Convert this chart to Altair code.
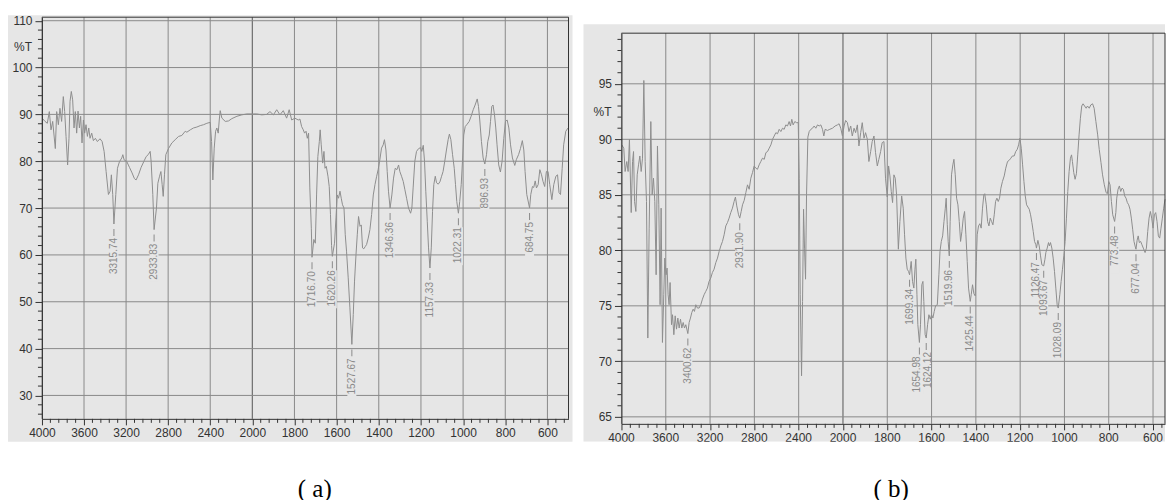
import altair as alt
import pandas as pd

# ---------------- spectrum (a) : wavenumber (cm-1) and %T ----------------
wn_a = [3994, 3971, 3949, 3930, 3914, 3898, 3873, 3860, 3844, 3829, 3813, 3797, 3784, 3771, 3756,
        3743, 3733, 3721, 3708, 3695, 3683, 3670, 3657, 3644, 3632, 3619, 3606, 3594, 3581, 3568,
        3555, 3543, 3527, 3511, 3492, 3473, 3448, 3428, 3409, 3390, 3368, 3352, 3340, 3327, 3315.74,
        3298, 3282, 3263, 3241, 3231, 3219, 3193, 3168, 3143, 3121, 3105, 3082, 3057, 3028, 3009,
        2990, 2971, 2962, 2946, 2933.83, 2911, 2898, 2882, 2869, 2857, 2847, 2835, 2822, 2797, 2765,
        2733, 2701, 2670, 2638, 2622, 2590, 2559, 2527, 2495, 2463, 2432, 2400, 2387, 2375, 2362,
        2349, 2337, 2324, 2314, 2305, 2289, 2257, 2226, 2194, 2146, 2099, 2051, 1994, 1979, 1955,
        1932, 1916, 1900, 1884, 1869, 1853, 1837, 1825, 1813, 1798, 1782, 1774, 1766, 1758, 1752,
        1745, 1739, 1733, 1727, 1720, 1716.70, 1708, 1701, 1695, 1689, 1682, 1678, 1673, 1666, 1660,
        1655, 1649, 1641, 1635, 1629, 1624, 1620.26, 1610, 1603, 1597, 1591, 1584, 1578, 1572, 1565,
        1559, 1553, 1545, 1537, 1527.67, 1521, 1515, 1508, 1502, 1496, 1489, 1483, 1477, 1471, 1464,
        1458, 1450, 1442, 1434, 1426, 1418, 1410, 1403, 1395, 1387, 1379, 1373, 1366, 1360, 1354,
        1346.36, 1338, 1330, 1322, 1314, 1306, 1300, 1292, 1284, 1276, 1268, 1259, 1249, 1243, 1237,
        1229, 1221, 1211, 1202, 1196, 1189, 1183, 1177, 1170, 1164, 1157.33, 1151, 1145, 1139, 1132,
        1126, 1118, 1110, 1102, 1095, 1087, 1079, 1071, 1065, 1058, 1050, 1042, 1036, 1030, 1022.31,
        1016, 1009, 1003, 997, 990, 981, 971, 962, 952, 943, 933, 927, 921, 913, 905,
        896.93, 889, 883, 876, 870, 864, 858, 851, 845, 839, 831, 823, 815, 807, 799,
        791, 783, 775, 766, 755, 747, 737, 728, 719, 712, 706, 698, 684.75, 679, 671,
        665, 658, 652, 644, 636, 628, 621, 613, 605, 597, 589, 579, 570, 560, 552,
        545, 538, 530, 523, 513, 502]
t_a = [89.1, 88.5, 88.1, 90.6, 86.7, 88.5, 82.7, 90.6, 87.8, 91.3, 88.5, 93.8, 90.6, 85.3, 79.2,
       84.9, 92.8, 94.9, 93.1, 87.1, 90.6, 86.0, 90.7, 87.1, 89.6, 83.9, 88.8, 86.0, 87.8, 85.3,
       87.1, 84.9, 86.0, 84.4, 84.9, 84.2, 84.8, 84.2, 82.1, 77.8, 72.9, 73.6, 77.1, 72.9, 66.6,
       72.9, 78.5, 79.9, 80.7, 81.4, 80.3, 79.9, 78.7, 77.5, 76.3, 76.0, 77.1, 78.7, 80.1, 81.0,
       81.4, 82.1, 80.0, 72.9, 65.4, 70.0, 75.3, 76.8, 77.8, 75.0, 72.5, 77.1, 81.4, 82.7, 83.9,
       84.6, 85.3, 85.5, 86.4, 86.2, 86.7, 87.1, 87.3, 87.6, 87.8, 88.1, 88.3, 84.2, 76.0, 82.8,
       86.4, 87.1, 86.0, 88.8, 90.8, 89.2, 88.5, 88.6, 89.1, 89.6, 89.9, 90.1, 90.1, 90.1, 89.9,
       90.0, 90.6, 89.9, 91.0, 89.9, 90.8, 89.2, 91.0, 88.8, 89.2, 88.8, 89.0, 87.4, 86.7, 86.0,
       86.4, 84.9, 86.0, 74.3, 65.7, 59.5, 63.3, 62.5, 72.8, 81.0, 84.2, 86.7, 83.5, 79.6, 82.1,
       78.5, 78.9, 76.8, 74.6, 68.6, 62.0, 59.7, 62.5, 67.9, 72.8, 72.1, 73.6, 72.1, 70.7, 70.0,
       64.3, 60.8, 55.1, 48.7, 40.9, 47.3, 54.4, 60.1, 64.3, 68.2, 66.1, 66.4, 61.5, 61.3, 61.8,
       62.2, 63.6, 65.4, 68.6, 72.8, 75.0, 76.8, 78.2, 80.3, 82.8, 83.5, 84.6, 82.4, 77.8, 73.6,
       70.0, 72.8, 76.4, 78.5, 78.2, 79.2, 77.8, 76.8, 75.7, 73.9, 72.1, 70.0, 68.9, 70.0, 74.3,
       80.0, 82.1, 82.7, 82.9, 82.1, 83.4, 80.0, 73.6, 67.2, 61.5, 57.2, 61.5, 69.3, 75.0, 76.8,
       75.4, 75.1, 75.6, 76.8, 77.8, 80.0, 82.4, 84.6, 85.8, 84.6, 81.4, 78.5, 75.0, 71.4, 68.9,
       71.4, 75.0, 80.0, 85.6, 87.4, 87.9, 88.5, 89.6, 91.0, 92.0, 93.3, 91.7, 88.8, 84.2, 80.7,
       79.4, 81.4, 84.2, 85.6, 88.5, 91.7, 92.0, 89.9, 87.1, 83.5, 79.2, 77.7, 80.0, 84.9, 88.5,
       88.8, 87.1, 83.5, 80.7, 79.1, 80.4, 81.4, 82.7, 84.4, 82.4, 77.8, 72.9, 70.0, 72.9, 74.6,
       74.4, 75.8, 74.3, 75.0, 78.2, 77.1, 75.7, 74.6, 77.8, 77.8, 75.0, 71.8, 75.0, 76.8, 77.1,
       73.3, 72.9, 78.5, 83.5, 86.4, 87.1]

# ---------------- spectrum (b) ----------------
wn_b = [3997, 3979, 3967, 3952, 3940, 3928, 3912, 3900, 3891, 3882, 3870, 3858, 3846, 3834, 3822,
        3810, 3798, 3786, 3774, 3762, 3750, 3735, 3723, 3711, 3699, 3687, 3675, 3663, 3651, 3642,
        3630, 3618, 3609, 3597, 3588, 3579, 3570, 3561, 3548, 3539, 3527, 3515, 3503, 3491, 3479,
        3467, 3455, 3443, 3431, 3419, 3400.62, 3389, 3377, 3365, 3353, 3341, 3329, 3314, 3299, 3284,
        3269, 3254, 3239, 3224, 3209, 3194, 3179, 3164, 3148, 3133, 3118, 3103, 3088, 3073, 3058,
        3043, 3028, 3013, 2998, 2983, 2971, 2959, 2943, 2931.90, 2919, 2907, 2892, 2877, 2862, 2847,
        2832, 2817, 2802, 2787, 2772, 2757, 2742, 2727, 2711, 2696, 2681, 2666, 2651, 2636, 2621,
        2606, 2591, 2576, 2561, 2546, 2531, 2516, 2501, 2486, 2474, 2462, 2450, 2435, 2419, 2404,
        2395, 2386, 2374, 2365, 2356, 2347, 2338, 2329, 2317, 2305, 2290, 2275, 2260, 2245, 2230,
        2215, 2200, 2185, 2173, 2161, 2140, 2119, 2095, 2071, 2050, 2035, 2020, 2005, 1995, 1988,
        1980, 1973, 1965, 1958, 1950, 1943, 1935, 1928, 1920, 1913, 1905, 1898, 1890, 1883, 1875,
        1868, 1860, 1853, 1845, 1838, 1830, 1823, 1815, 1808, 1800, 1794, 1788, 1782, 1776, 1770,
        1764, 1758, 1750, 1743, 1735, 1728, 1722, 1716, 1710, 1704, 1699.34, 1692, 1686, 1680, 1675,
        1671, 1666, 1662, 1654.98, 1650, 1644, 1639, 1635, 1629, 1624.12, 1618, 1612, 1606, 1600, 1594,
        1588, 1582, 1574, 1567, 1562, 1556, 1550, 1544, 1538, 1534, 1529, 1525, 1519.96, 1516, 1510,
        1504, 1499, 1493, 1487, 1481, 1475, 1469, 1463, 1457, 1451, 1445, 1439, 1433, 1425.44, 1421,
        1415, 1409, 1403, 1398, 1394, 1388, 1382, 1376, 1370, 1364, 1360, 1353, 1347, 1341, 1335,
        1329, 1323, 1317, 1311, 1305, 1299, 1293, 1287, 1280, 1272, 1265, 1257, 1250, 1242, 1235,
        1227, 1220, 1213, 1207, 1201, 1195, 1189, 1183, 1177, 1171, 1165, 1159, 1153, 1147, 1141,
        1135, 1129, 1126.47, 1120, 1114, 1108, 1102, 1093.67, 1088, 1084, 1078, 1072, 1068, 1063, 1057,
        1051, 1045, 1039, 1033, 1028.09, 1021, 1015, 1009, 1003, 997, 991, 985, 979, 973, 968,
        964, 958, 952, 946, 940, 934, 928, 922, 916, 909, 902, 896, 888, 881, 873,
        866, 858, 850, 843, 835, 828, 820, 812, 806, 800, 794, 788, 782, 773.48, 768,
        764, 758, 752, 746, 740, 734, 728, 722, 716, 710, 704, 698, 692, 686, 680,
        677.04, 672, 667, 662, 656, 650, 644, 636, 630, 624, 618, 612, 606, 600, 594,
        588, 582, 576, 570, 564, 558, 552, 546]
t_b = [89.5, 89.2, 87.1, 88.0, 87.1, 90.0, 83.4, 88.0, 88.9, 84.4, 83.5, 86.8, 87.7, 88.5, 87.1,
       88.3, 95.3, 88.0, 84.4, 72.1, 82.0, 91.6, 85.0, 86.5, 84.4, 77.8, 89.4, 84.1, 75.1, 83.8,
       71.7, 76.0, 79.3, 77.8, 78.4, 76.0, 75.1, 77.1, 73.3, 74.2, 72.4, 74.1, 72.9, 73.9, 73.0,
       73.8, 73.0, 73.5, 73.0, 73.3, 72.5, 73.5, 73.9, 74.4, 74.7, 74.5, 75.1, 74.8, 74.8, 75.1,
       75.6, 76.0, 76.3, 76.6, 77.2, 77.5, 78.0, 78.3, 78.9, 79.3, 79.9, 80.4, 80.8, 81.4, 82.2,
       82.5, 82.9, 83.4, 83.8, 84.4, 84.8, 84.0, 83.2, 82.9, 83.5, 84.1, 84.5, 85.2, 85.9, 85.5,
       86.5, 87.0, 87.6, 87.4, 87.3, 87.7, 88.0, 88.3, 88.2, 88.8, 88.9, 89.2, 89.5, 90.0, 90.3,
       90.6, 90.5, 90.9, 90.7, 91.0, 90.9, 91.3, 91.2, 91.6, 91.2, 91.8, 91.3, 91.6, 91.5, 91.5,
       86.5, 76.0, 68.7, 75.4, 83.7, 80.2, 77.4, 85.0, 90.2, 90.7, 90.9, 91.0, 91.2, 91.0, 91.3,
       91.2, 91.3, 90.9, 90.3, 90.9, 90.8, 90.9, 91.0, 91.2, 91.3, 91.4, 91.0, 90.3, 91.2, 91.7,
       91.5, 90.7, 91.2, 90.3, 91.0, 90.6, 91.3, 89.4, 90.6, 91.5, 90.1, 90.6, 90.0, 88.0, 88.9,
       89.8, 90.3, 88.8, 87.6, 88.2, 88.9, 89.7, 89.8, 86.5, 84.8, 87.6, 86.7, 85.3, 84.3, 86.8,
       86.5, 85.0, 80.1, 82.6, 84.9, 83.8, 81.4, 79.3, 78.3, 78.1, 77.8, 79.0, 77.2, 76.6, 78.3,
       79.2, 76.0, 73.3, 71.7, 73.3, 76.9, 77.2, 75.4, 72.4, 72.1, 73.3, 74.2, 73.8, 74.2, 73.9,
       74.5, 75.0, 75.1, 77.8, 79.9, 80.8, 81.3, 82.6, 83.8, 84.7, 82.3, 80.8, 79.5, 82.6, 86.8,
       87.7, 88.2, 86.8, 84.7, 84.1, 82.6, 80.8, 81.7, 82.9, 83.5, 81.4, 79.0, 76.6, 75.4, 76.0,
       76.9, 76.1, 75.9, 79.0, 81.4, 82.2, 82.4, 82.0, 83.8, 85.0, 85.1, 84.1, 82.6, 82.2, 82.9,
       82.6, 82.3, 83.2, 84.4, 84.7, 84.4, 84.7, 85.6, 86.2, 86.7, 87.4, 88.0, 88.1, 88.3, 88.5,
       88.5, 88.9, 89.1, 89.5, 90.1, 89.2, 87.7, 86.2, 84.9, 84.1, 83.9, 83.7, 83.2, 82.5, 81.7,
       80.8, 80.5, 80.2, 80.9, 80.4, 79.5, 78.7, 78.6, 79.2, 79.8, 80.2, 80.7, 80.4, 80.7, 80.2,
       79.3, 78.1, 76.6, 75.1, 74.8, 76.0, 77.2, 78.3, 79.5, 80.8, 82.9, 85.3, 87.1, 88.3, 88.6,
       88.0, 87.0, 86.4, 86.9, 88.6, 90.4, 91.9, 93.0, 93.2, 93.0, 92.8, 93.0, 92.8, 93.1, 93.2,
       92.8, 91.6, 90.4, 89.1, 87.9, 86.8, 85.9, 85.2, 85.1, 86.2, 85.9, 84.4, 83.2, 82.6, 83.4,
       84.7, 85.5, 85.8, 85.3, 85.6, 85.5, 84.9, 84.7, 84.3, 84.1, 83.7, 82.9, 81.9, 80.8, 80.3,
       80.1, 80.9, 81.3, 80.7, 80.8, 80.5, 80.2, 79.8, 80.2, 81.7, 82.9, 83.5, 82.9, 82.0, 83.2,
       83.4, 82.6, 81.3, 81.1, 82.0, 82.9, 83.8, 84.6]

# ---------------- peak annotations ----------------
peak_a_wn = [3315.74, 2933.83, 1716.70, 1620.26, 1527.67, 1346.36, 1157.33, 1022.31, 896.93, 684.75]
peak_a_t = [66.6, 65.4, 59.5, 59.7, 40.9, 70.0, 57.2, 68.9, 79.4, 70.0]
peak_b_wn = [3400.62, 2931.90, 1699.34, 1654.98, 1624.12, 1519.96, 1425.44,
             1126.47, 1093.67, 1028.09, 773.48, 677.04]
peak_b_t = [72.5, 82.9, 77.8, 71.7, 72.1, 79.5, 75.4, 80.2, 78.6, 74.8, 82.6, 80.1]
# sideways nudges (px) that keep crowded labels apart
nudge_b = {1654.98: -2, 1624.12: 2}

# ---------------- axis ticks ----------------
x_major = [4000, 3600, 3200, 2800, 2400, 2000, 1800, 1600, 1400, 1200, 1000, 800, 600]
x_minor = [v for v in range(4000, 2000, -80) if v % 400] + [v for v in range(2000, 499, -40) if v % 200]
ya_major = list(range(30, 111, 10))
ya_minor = [v for v in range(26, 111, 2) if v % 10]
yb_major = list(range(65, 96, 5))
yb_minor = [v for v in range(65, 100) if v % 5]

# ---------------- styling ----------------
BG = "#e6e6e6"
GRID = "#8a8a8a"
GRID_MID = "#555555"
AX = "#333333"
LINE = "#8e8e8e"
LBL = "#8a8a8a"
SANS = "Liberation Sans"
SERIF = "Liberation Serif"

one = pd.DataFrame({"k": [0]})


def panel(wn, t, pk_wn, pk_t, nudge, xs, ys, W, H, y_top, y_bot, x_end, y_major, y_minor,
          frame, caption, cap_x, pct_t, full_height_grid, x_labels_as_text):
    df = pd.DataFrame({"wn": wn, "t": t})
    x_min = [v for v in x_minor if v >= x_end]

    # one axis definition per channel, shared by every layer so they merge cleanly
    x_axis = alt.Axis(values=x_major, format="d", tickSize=6, labelPadding=3, labelFontSize=12,
                      labelFont=SANS, labelColor=AX, domainColor=AX, tickColor=AX, grid=False,
                      title=None, labelFlush=False, labelOverlap=False, zindex=1,
                      labels=not x_labels_as_text)
    y_axis = alt.Axis(values=y_major, format="d", tickSize=7, labelPadding=3, labelFontSize=12,
                      labelFont=SANS, labelColor=AX, domainColor=AX, tickColor=AX, grid=False,
                      title=None, labelFlush=False, labelOverlap=False, zindex=1)

    def X(field=None, datum=None):
        if datum is not None:
            return alt.X(datum=datum, scale=xs, axis=x_axis)
        return alt.X(field, type="quantitative", scale=xs, axis=x_axis)

    def Y(field=None, datum=None):
        if datum is not None:
            return alt.Y(datum=datum, scale=ys, axis=y_axis)
        return alt.Y(field, type="quantitative", scale=ys, axis=y_axis)

    layers = []
    # panel background
    layers.append(alt.Chart(one).mark_rect(fill=BG).encode(
        x=alt.value(frame[0]), x2=alt.value(frame[1]), y=alt.value(frame[2]), y2=alt.value(frame[3])))

    # vertical grid
    gx = pd.DataFrame({"wn": x_major})
    genc = dict(x=X("wn"), color=alt.condition("datum.wn == 2000", alt.value(GRID_MID), alt.value(GRID)))
    if not full_height_grid:
        genc["y"] = Y(datum=y_top)
        genc["y2"] = alt.Y2(datum=y_bot)
    layers.append(alt.Chart(gx).mark_rule(strokeWidth=1).encode(**genc))

    # horizontal grid
    layers.append(alt.Chart(pd.DataFrame({"t": y_major})).mark_rule(color=GRID, strokeWidth=1).encode(
        y=Y("t")))

    # spectrum
    layers.append(alt.Chart(df).mark_line(color=LINE, strokeWidth=1).encode(x=X("wn"), y=Y("t")))

    # plot frame (top and right)
    layers.append(alt.Chart(one).mark_rule(color=AX, strokeWidth=1).encode(y=Y(datum=y_top)))
    layers.append(alt.Chart(one).mark_rule(color=AX, strokeWidth=1).encode(
        x=X(datum=x_end), y=Y(datum=y_top), y2=alt.Y2(datum=y_bot)))

    # peak labels: a short leader below each minimum, a plain backing strip, then the rotated wavenumber
    pk = pd.DataFrame({"wn": pk_wn, "t": pk_t, "lab": [f"{v:.2f}" for v in pk_wn]})
    layers.append(alt.Chart(pk).mark_tick(orient="vertical", size=38, thickness=9, yOffset=33,
                                          color=BG, opacity=1).encode(x=X("wn"), y=Y("t")))
    layers.append(alt.Chart(pk).mark_tick(orient="vertical", size=7, thickness=1, yOffset=8.5,
                                          color=LBL, opacity=1).encode(x=X("wn"), y=Y("t")))
    plain = pk[~pk["wn"].isin(list(nudge))]
    layers.append(alt.Chart(plain).mark_text(angle=270, align="right", baseline="middle", dx=-14,
                                             fontSize=10, font=SANS, color=LBL).encode(
        x=X("wn"), y=Y("t"), text="lab:N"))
    for w, shift in nudge.items():
        layers.append(alt.Chart(pk[pk["wn"] == w]).mark_text(
            angle=270, align="right", baseline="middle", dx=-14, dy=shift,
            fontSize=10, font=SANS, color=LBL).encode(x=X("wn"), y=Y("t"), text="lab:N"))

    # minor ticks
    layers.append(alt.Chart(pd.DataFrame({"wn": x_min})).mark_rule(color=AX).encode(
        x=X("wn"), y=alt.value(H), y2=alt.value(H + 4)))
    layers.append(alt.Chart(pd.DataFrame({"t": y_minor})).mark_rule(color=AX).encode(
        y=Y("t"), x=alt.value(0), x2=alt.value(-4)))

    # %T unit label
    layers.append(alt.Chart(pd.DataFrame({"t": [pct_t]})).mark_text(
        align="right", baseline="middle", fontSize=12, font=SANS, color=AX).encode(
        y=Y("t"), x=alt.value(-10), text=alt.value("%T")))

    if x_labels_as_text:
        layers.append(alt.Chart(pd.DataFrame({"wn": x_major})).mark_text(
            align="center", baseline="top", fontSize=12, font=SANS, color=AX).encode(
            x=X("wn"), y=alt.value(H + 9), text=alt.Text("wn:Q", format="d")))
        layers.append(alt.Chart(one).mark_rect(fill="white").encode(
            x=alt.value(frame[0] - 2), x2=alt.value(frame[1]), y=alt.value(frame[3]),
            y2=alt.value(frame[3] + 16)))

    # caption
    layers.append(alt.Chart(one).mark_text(fontSize=25, font=SERIF, color="black",
                                           align="center", baseline="middle").encode(
        x=alt.value(cap_x), y=alt.value(472), text=alt.value(caption)))

    return alt.layer(*layers).properties(width=W, height=H)


xs_a = alt.Scale(domain=[4000, 2000, 500], range=[0, 210.5, 527], nice=False, zero=False)
ys_a = alt.Scale(domain=[25.0, 110.75], range=[402, 0], nice=False, zero=False)
xs_b = alt.Scale(domain=[4000, 2000, 546], range=[0, 221.7, 544], nice=False, zero=False)
ys_b = alt.Scale(domain=[64.37, 99.56], range=[407, 16], nice=False, zero=False)

pa = panel(wn_a, t_a, peak_a_wn, peak_a_t, {}, xs_a, ys_a, 527, 402, 110.75, 25.0, 500,
           ya_major, ya_minor, frame=(-34, 531, -2, 425), caption="( a)", cap_x=273,
           pct_t=104.4, full_height_grid=True, x_labels_as_text=False)
pb = panel(wn_b, t_b, peak_b_wn, peak_b_t, nudge_b, xs_b, ys_b, 544, 407, 99.56, 64.37, 546,
           yb_major, yb_minor, frame=(-38, 544, 7, 425), caption="( b)", cap_x=270,
           pct_t=92.5, full_height_grid=False, x_labels_as_text=True)

chart = alt.hconcat(pa, pb, spacing=53, bounds="flush").properties(
    padding={"left": 8, "top": 14, "right": 0, "bottom": 0},
    background="white",
).configure_view(stroke=None)

chart.save("out.html", embed_options={"renderer": "svg", "actions": False})
